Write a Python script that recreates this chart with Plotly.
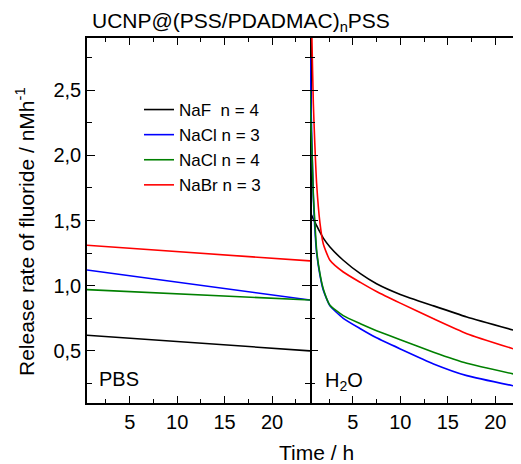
import plotly.graph_objects as go

# ---------------- data ----------------
series_names = ["NaF  n = 4", "NaCl n = 3", "NaCl n = 4", "NaBr n = 3"]
series_colors = ["#000000", "#0000ff", "#008000", "#ff0000"]

# PBS phase (left panel)
t_pbs = [0.5, 12.0, 24.0]
pbs_naf4 = [0.62, 0.56, 0.50]
pbs_nacl3 = [1.12, 1.005, 0.89]
pbs_nacl4 = [0.97, 0.93, 0.89]
pbs_nabr3 = [1.31, 1.25, 1.19]

# H2O phase (right panel)
t_h2o = [0.5, 0.6, 0.7, 0.85, 1.0, 1.2, 1.55, 1.9, 2.6, 4.0, 5.8, 7.5, 10.0, 13.5, 17.0, 22.7]
h2o_naf4 = [1.566, 1.55, 1.535, 1.51, 1.49, 1.46, 1.41, 1.365, 1.297, 1.195, 1.092, 1.015, 0.933, 0.845, 0.76, 0.643]
h2o_nacl3 = [2.75, 2.40, 2.10, 1.68, 1.45, 1.25, 1.08, 0.965, 0.845, 0.75, 0.67, 0.60, 0.515, 0.40, 0.31, 0.22]
h2o_nacl4 = [2.50, 2.25, 2.05, 1.70, 1.50, 1.27, 1.09, 0.975, 0.85, 0.77, 0.708, 0.655, 0.585, 0.49, 0.405, 0.31]
h2o_nabr3 = [3.70, 3.30, 2.90, 2.40, 2.10, 1.78, 1.48, 1.32, 1.195, 1.105, 1.025, 0.955, 0.866, 0.746, 0.632, 0.497]

pbs_values = [pbs_naf4, pbs_nacl3, pbs_nacl4, pbs_nabr3]
h2o_values = [h2o_naf4, h2o_nacl3, h2o_nacl4, h2o_nabr3]

x_ticks = [5, 10, 15, 20]
y_ticks = [0.5, 1.0, 1.5, 2.0, 2.5]

# ---------------- figure ----------------
# the page adds an 8px body margin, so the figure is 8px smaller than the window
W, H = 513, 456
ML, MR, MT, MB = 79, 0, 30, 61
PW = W - ML - MR
PH = H - MT - MB
split = (302 - ML) / PW

FONT = "Arial, Liberation Sans, sans-serif"

fig = go.Figure()
for name, col, pv, hv in zip(series_names, series_colors, pbs_values, h2o_values):
    fig.add_trace(go.Scatter(x=t_pbs, y=pv, mode="lines", line=dict(color=col, width=1.6),
                             name=name, legendgroup=name, showlegend=True,
                             xaxis="x", yaxis="y"))
    fig.add_trace(go.Scatter(x=t_h2o, y=hv, mode="lines",
                             line=dict(color=col, width=1.6, shape="spline", smoothing=0.5),
                             name=name, legendgroup=name, showlegend=False,
                             xaxis="x2", yaxis="y2"))

axis_common = dict(
    linecolor="black", linewidth=1.5,
    ticks="inside", tickcolor="black", tickwidth=1.2,
    showgrid=False, zeroline=False, automargin=False,
    tickfont=dict(family=FONT, size=20, color="black"),
)
minor_x = dict(tick0=0, dtick=2.5, ticks="inside", ticklen=4, tickcolor="black", tickwidth=1.2, showgrid=False)
minor_y = dict(tick0=0, dtick=0.25, ticks="inside", ticklen=5, tickcolor="black", tickwidth=1.2, showgrid=False)

fig.update_layout(
    template="none",
    width=W, height=H,
    margin=dict(l=ML, r=MR, t=MT, b=MB, autoexpand=False),
    paper_bgcolor="white", plot_bgcolor="white",
    separators=",.",
    font=dict(family=FONT, color="black"),
    xaxis=dict(domain=[0, split], range=[0.5, 24], tickvals=x_ticks, ticklen=7, showline=True,
               mirror="ticks", anchor="y", minor=minor_x, **axis_common),
    xaxis2=dict(domain=[split, 1], range=[0.5, 22.7], tickvals=x_ticks, ticklen=7, showline=True,
                mirror="ticks", anchor="y2", minor=minor_x, **axis_common),
    yaxis=dict(range=[0.1, 2.9], tickvals=y_ticks, tickformat=".1f", ticklen=8, showline=True,
               mirror="ticks", anchor="x", minor=minor_y, **axis_common),
    yaxis2=dict(range=[0.1, 2.9], tickvals=y_ticks, ticklen=8, showticklabels=False, showline=False,
                anchor="x2", minor=minor_y, **axis_common),
    legend=dict(x=(131 - ML) / PW, y=1 - (84 - MT) / PH, xanchor="left", yanchor="top",
                bgcolor="rgba(0,0,0,0)", borderwidth=0, font=dict(family=FONT, size=17, color="black"),
                tracegroupgap=0, itemwidth=30),
    showlegend=True,
)

def px_x(px):
    return (px - ML) / PW

def px_y(py):
    return 1 - (py - MT) / PH

annotations = [
    dict(text="UCNP@(PSS/PDADMAC)<sub>n</sub>PSS", x=px_x(82), y=px_y(14), xanchor="left", yanchor="middle",
         font=dict(family=FONT, size=21, color="black")),
    dict(text="Release rate of fluoride / nMh<sup>-1</sup>", x=px_x(17), y=px_y(224), xanchor="center", yanchor="middle",
         textangle=-90, font=dict(family=FONT, size=21, color="black")),
    dict(text="Time / h", x=px_x(308.5), y=px_y(444), xanchor="center", yanchor="middle",
         font=dict(family=FONT, size=21, color="black")),
    dict(text="PBS", x=px_x(89), y=px_y(371), xanchor="left", yanchor="middle",
         font=dict(family=FONT, size=20, color="black")),
    dict(text="H<sub>2</sub>O", x=px_x(315), y=px_y(373), xanchor="left", yanchor="middle",
         font=dict(family=FONT, size=20, color="black")),
]
for a in annotations:
    a.update(xref="paper", yref="paper", showarrow=False)
fig.update_layout(annotations=annotations)

fig.write_html("out.html")
